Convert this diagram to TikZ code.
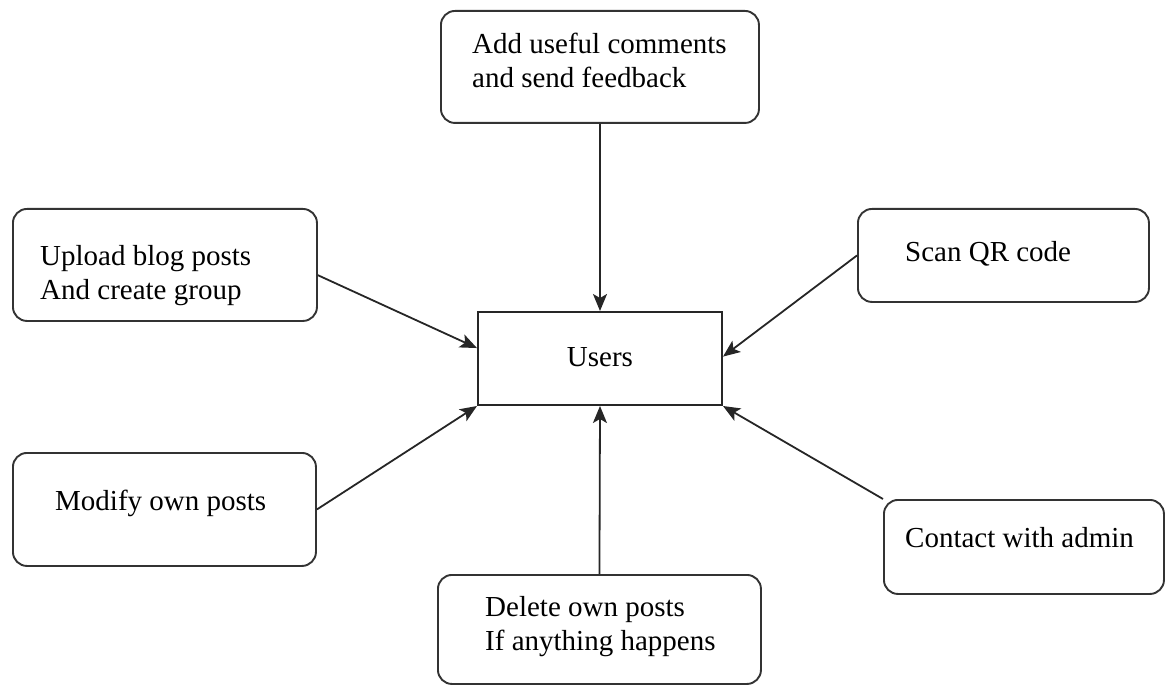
\documentclass[tikz,border=0pt]{standalone}
\usepackage{fontspec}
\setmainfont{Liberation Serif}
\usetikzlibrary{arrows.meta,calc}

\begin{document}
\begin{tikzpicture}[x=1pt,y=-1pt,
  box/.style={draw=black!80,line width=1.9pt,rounded corners=14pt,inner sep=0pt,anchor=north west},
  plainbox/.style={draw=black!85,line width=2pt,inner sep=0pt,anchor=north west},
  txt/.style={inner sep=0pt,anchor=west,align=left,font=\fontsize{29}{34}\selectfont},
  flow/.style={draw=black!85,line width=1.8pt,-{Stealth[length=17pt,width=14pt,inset=4pt]}}
]
\useasboundingbox (0,0) rectangle (1165,687);

% boxes (top-left corner, size)
\node[box,minimum width=318pt,minimum height=112pt] (feed) at (440,10) {};
\node[box,minimum width=304pt,minimum height=112pt] (upload) at (12,208) {};
\node[box,minimum width=291pt,minimum height=93pt] (scan) at (857,208) {};
\node[plainbox,minimum width=244pt,minimum height=93pt] (users) at (477,311) {};
\node[box,minimum width=303pt,minimum height=113pt] (modify) at (12,452) {};
\node[box,minimum width=280pt,minimum height=94pt] (contact) at (883,499) {};
\node[box,minimum width=323pt,minimum height=109pt] (delete) at (437,574) {};

% texts
\node[txt] (tfeed) at (472,60) {Add useful comments\\and send feedback};
\node[txt] (tupload) at (40,276) {Upload blog posts\\And create group};
\node[txt] (tscan) at (905,254) {Scan QR code};
\node[txt,anchor=center] (tusers) at (600,357) {Users};
\node[txt] (tmodify) at (55,503) {Modify own posts};
\node[txt] (tcontact) at (905,538) {Contact with admin};
\node[txt] (tdelete) at (485,627) {Delete own posts\\If anything happens};

% connectors into the Users box
\draw[flow] (feed.south) -- (users.north);
\draw[flow] ($(upload.north east)!0.59!(upload.south east)$) -- ($(users.north west)!0.39!(users.south west)$);
\draw[flow] ($(scan.north west)!0.5!(scan.south west)$) -- ($(users.north east)!0.48!(users.south east)$);
\draw[flow] (modify.east) -- (users.south west);
\draw[flow] (contact.north west) -- (users.south east);
\draw[flow] (delete.north) -- (users.south);
\end{tikzpicture}
\end{document}
